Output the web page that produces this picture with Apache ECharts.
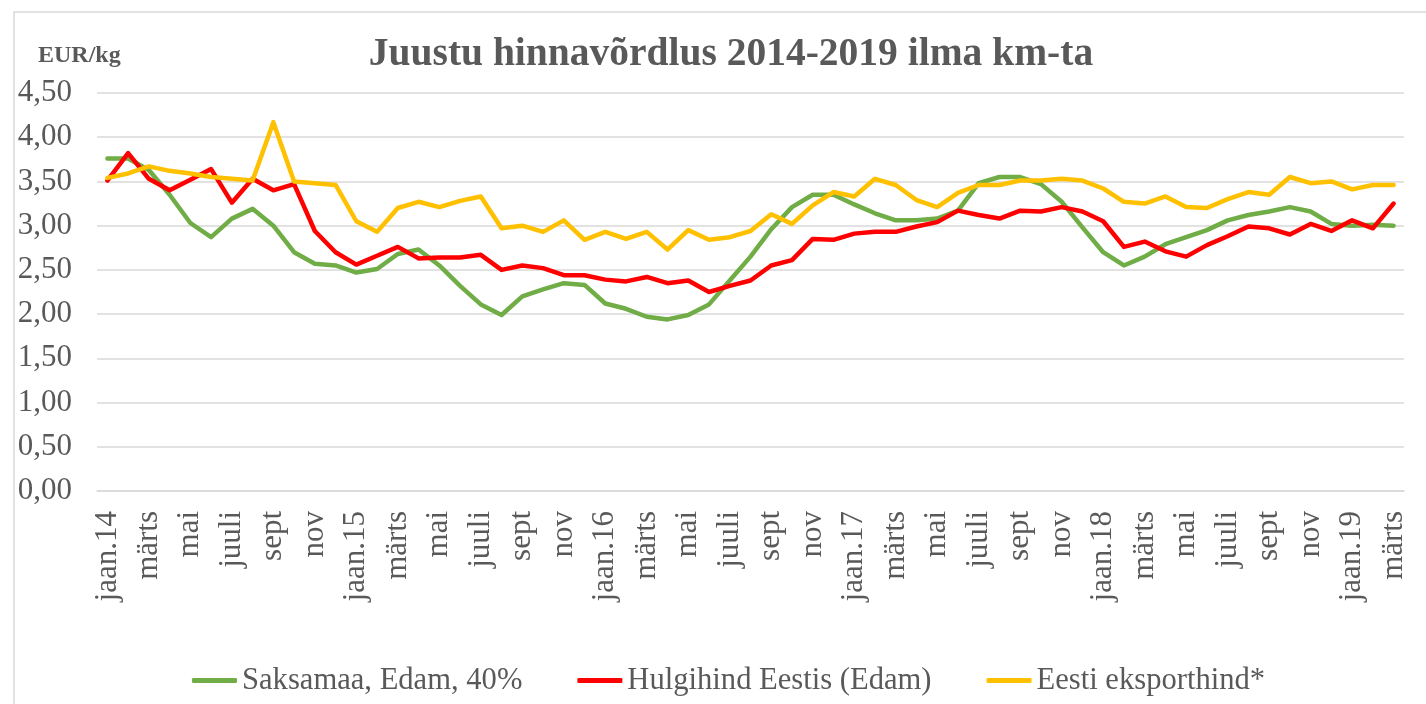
<!DOCTYPE html>
<html>
<head>
<meta charset="utf-8">
<script src="https://cdn.jsdelivr.net/npm/echarts@6/dist/echarts.min.js"></script>
<style>
html,body{margin:0;padding:0;background:#fff;}
#chart{width:1426px;height:704px;}
</style>
</head>
<body>
<div id="chart"></div>
<script>
const months = ['jaan','veebr','märts','apr','mai','juuni','juuli','aug','sept','okt','nov','dets'];
const years = ['14','15','16','17','18','19'];
const categories = [];
for (let y = 0; y < years.length; y++) {
  for (let m = 0; m < 12; m++) {
    if (y === 5 && m > 2) break;
    categories.push(m === 0 ? 'jaan.' + years[y] : months[m]);
  }
}
const seriesNames = ['Saksamaa, Edam, 40%', 'Hulgihind Eestis (Edam)', 'Eesti eksporthind*'];
const saksamaa = [3.76,3.76,3.63,3.35,3.03,2.87,3.08,3.19,3.00,2.70,
  2.57,2.55,2.47,2.51,2.68,2.73,2.55,2.32,2.11,1.99,
  2.20,2.28,2.35,2.33,2.12,2.06,1.97,1.94,1.99,2.11,
  2.38,2.65,2.96,3.21,3.35,3.35,3.24,3.14,3.06,3.06,
  3.08,3.17,3.48,3.55,3.55,3.47,3.27,2.98,2.70,2.55,
  2.65,2.79,2.87,2.95,3.06,3.12,3.16,3.21,3.16,3.02,
  3.00,3.01,3.00];
const hulgihind = [3.51,3.82,3.53,3.40,3.52,3.64,3.26,3.53,3.40,3.47,
  2.94,2.70,2.56,2.66,2.76,2.63,2.64,2.64,2.67,2.50,
  2.55,2.52,2.44,2.44,2.39,2.37,2.42,2.35,2.38,2.25,
  2.32,2.38,2.55,2.61,2.85,2.84,2.91,2.93,2.93,2.99,
  3.04,3.17,3.12,3.08,3.17,3.16,3.21,3.16,3.05,2.76,
  2.82,2.71,2.65,2.78,2.88,2.99,2.97,2.90,3.02,2.94,
  3.06,2.97,3.25];
const eksporthind = [3.54,3.59,3.67,3.62,3.59,3.55,3.53,3.51,4.17,3.50,
  3.48,3.46,3.05,2.93,3.20,3.27,3.21,3.28,3.33,2.97,
  3.00,2.93,3.06,2.84,2.93,2.85,2.93,2.73,2.95,2.84,
  2.87,2.94,3.13,3.02,3.23,3.38,3.33,3.53,3.46,3.29,
  3.21,3.37,3.46,3.46,3.51,3.51,3.53,3.51,3.42,3.27,
  3.25,3.33,3.21,3.20,3.30,3.38,3.35,3.55,3.48,3.50,
  3.41,3.46,3.46];
const colors = ['#70AD47', '#FF0000', '#FFC000'];
const FONT = '"Liberation Serif", "Times New Roman", serif';
const TXT = '#595959';

const chart = echarts.init(document.getElementById('chart'), null, {renderer: 'canvas'});
const dataSets = [saksamaa, hulgihind, eksporthind];
chart.setOption({
  animation: false,
  backgroundColor: '#fff',
  title: [
    {text: 'Juustu hinnavõrdlus 2014-2019 ilma km-ta', left: 726, textAlign: 'center', top: 30,
     textStyle: {fontFamily: FONT, fontSize: 39.5, fontWeight: 'bold', color: TXT}},
    {text: 'EUR/kg', left: 33, top: 39,
     textStyle: {fontFamily: FONT, fontSize: 24, fontWeight: 'bold', color: TXT}}
  ],
  graphic: [{type: 'rect', shape: {x: 14, y: 12, width: 1430, height: 720},
    style: {fill: 'none', stroke: '#D9D9D9', lineWidth: 1.5}, silent: true, z: -1}],
  legend: {
    left: 187, top: 660, itemWidth: 45, itemHeight: 5, itemGap: 55, icon: 'roundRect',
    textStyle: {fontFamily: FONT, fontSize: 30.6, color: TXT},
    data: seriesNames
  },
  grid: {left: 97, right: 22, top: 93, bottom: 213, containLabel: false},
  xAxis: {
    type: 'category', data: categories, boundaryGap: true,
    axisLine: {lineStyle: {color: '#D9D9D9', width: 1.5}},
    axisTick: {show: false},
    axisLabel: {interval: 1, rotate: 90, margin: 20, fontFamily: FONT, fontSize: 31, color: TXT}
  },
  yAxis: {
    type: 'value', min: 0, max: 4.5, interval: 0.5,
    axisLine: {show: false}, axisTick: {show: false},
    splitLine: {lineStyle: {color: '#D9D9D9', width: 1.5}},
    axisLabel: {margin: 25, fontFamily: FONT, fontSize: 31, color: TXT,
      formatter: v => v.toFixed(2).replace('.', ',')}
  },
  series: seriesNames.map((n, i) => ({
    name: n, type: 'line', data: dataSets[i], symbol: 'none', smooth: false,
    lineStyle: {color: colors[i], width: 4.5, cap: 'round', join: 'round'},
    itemStyle: {color: colors[i]}, z: 2 + i
  }))
});
</script>
</body>
</html>
